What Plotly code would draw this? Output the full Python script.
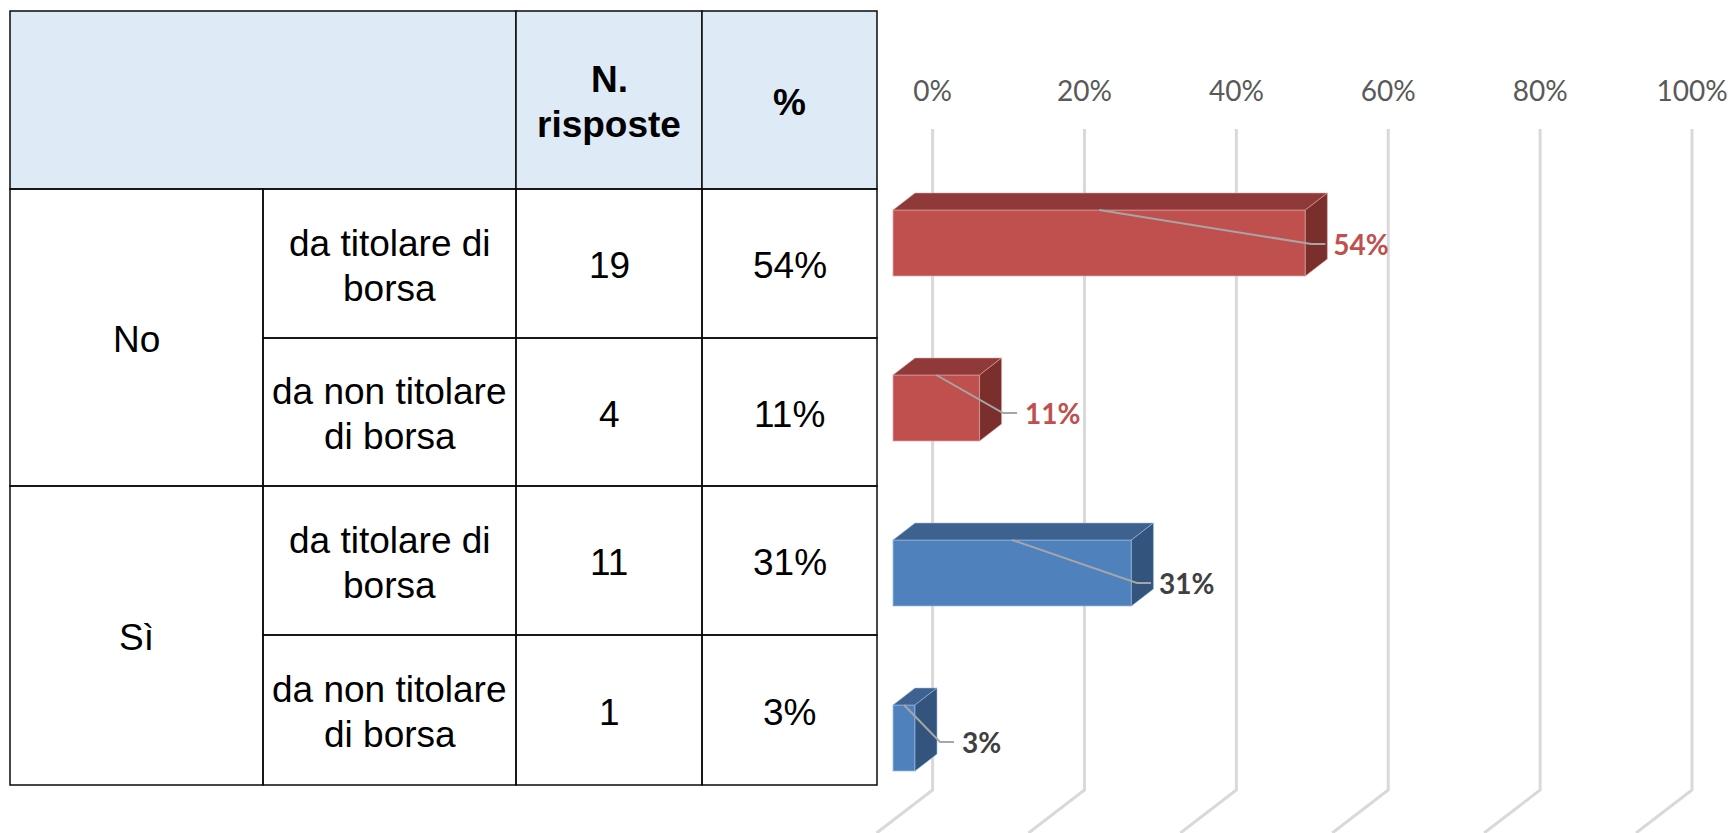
import plotly.graph_objects as go

# Data
groups = ["No", "Sì"]
subgroups = [["da titolare di", "borsa"], ["da non titolare", "di borsa"],
             ["da titolare di", "borsa"], ["da non titolare", "di borsa"]]
header_labels = [["N.", "risposte"], ["%"]]
counts = ["19", "4", "11", "1"]
percent_labels = ["54%", "11%", "31%", "3%"]
bar_values = [54.3, 11.4, 31.4, 2.9]
axis_ticks = [0, 20, 40, 60, 80, 100]
axis_labels = ["0%", "20%", "40%", "60%", "80%", "100%"]

# Page and table geometry, in pixels
W, H = 1731, 833
col_x = [10, 263, 516, 702, 877]
row_y = [11, 189, 338, 486, 635, 785]
LINE_GAP = 45
TEXT_SHIFT = 2
TABLE_FONT = "Liberation Sans"
CHART_FONT = "Lato"

# Chart geometry, in pixels
ZERO_PX = 932.6
PX_PER_PCT = 7.594
FIRST_ROW_PX = 243
ROW_PX = 165
CHART_LEFT = 866


def data_x(px):
    return (px - ZERO_PX) / PX_PER_PCT


def data_y(px):
    return (px - FIRST_ROW_PX) / ROW_PX


# Bar box geometry in axis units
FRONT_ZERO = data_x(893)
DEPTH_X = 22 / PX_PER_PCT
DEPTH_Y = 17 / ROW_PX
BAR_WIDTH = 66 / ROW_PX
# the label leaders were moved by hand in the original, so they differ per bar
ELBOW_OFFSET = [6 / PX_PER_PCT, 23.5 / PX_PER_PCT, 5.5 / PX_PER_PCT, 25 / PX_PER_PCT]
ELBOW_DROP = [1 / ROW_PX, 5 / ROW_PX, 10 / ROW_PX, 4 / ROW_PX]
TAIL = 14 / PX_PER_PCT
LABEL_GAP = 8 / PX_PER_PCT

front_colors = ["#C0504D", "#C0504D", "#4F81BD", "#4F81BD"]
top_colors = ["#8F3A38", "#8F3A38", "#3E628F", "#3E628F"]
side_colors = ["#7A2F2D", "#7A2F2D", "#33557D", "#33557D"]
edge_colors = ["rgba(222,170,168,0.7)", "rgba(222,170,168,0.7)", "rgba(160,190,230,0.7)", "rgba(160,190,230,0.7)"]
label_colors = ["#C0504D", "#C0504D", "#404040", "#404040"]


def px_paper_x(px):
    return px / W


def px_paper_y(px):
    return 1 - px / H


def table_rect(x0, y0, x1, y1, fill="rgba(0,0,0,0)"):
    return dict(type="rect", xref="paper", yref="paper", layer="above",
                x0=px_paper_x(x0), x1=px_paper_x(x1), y0=px_paper_y(y0), y1=px_paper_y(y1),
                fillcolor=fill, line=dict(color="#0A0A0A", width=1.5))


def cell_text(lines, x0, x1, y0, y1, bold=False):
    out = []
    for i, line in enumerate(lines):
        y = (y0 + y1) / 2 + (i - (len(lines) - 1) / 2) * LINE_GAP + TEXT_SHIFT
        out.append(dict(xref="paper", yref="paper", x=px_paper_x((x0 + x1) / 2), y=px_paper_y(y),
                        xanchor="center", yanchor="middle", showarrow=False,
                        text=f"<b>{line}</b>" if bold else line,
                        font=dict(family=TABLE_FONT, size=37, color="#000000")))
    return out


fig = go.Figure()

# Side and top faces of each bar
for i, v in enumerate(bar_values):
    right = FRONT_ZERO + v
    top = i - BAR_WIDTH / 2
    bottom = i + BAR_WIDTH / 2
    fig.add_trace(go.Scatter(
        x=[FRONT_ZERO, FRONT_ZERO + DEPTH_X, right + DEPTH_X, right, FRONT_ZERO],
        y=[top, top - DEPTH_Y, top - DEPTH_Y, top, top],
        mode="lines", fill="toself", fillcolor=top_colors[i],
        line=dict(color=edge_colors[i], width=0.8), hoverinfo="skip"))
    fig.add_trace(go.Scatter(
        x=[right, right + DEPTH_X, right + DEPTH_X, right, right],
        y=[top, top - DEPTH_Y, bottom - DEPTH_Y, bottom, top],
        mode="lines", fill="toself", fillcolor=side_colors[i],
        line=dict(color=edge_colors[i], width=0.8), hoverinfo="skip"))

# Front faces
fig.add_trace(go.Bar(
    y=list(range(len(bar_values))), x=bar_values, base=FRONT_ZERO, orientation="h", width=BAR_WIDTH,
    marker=dict(color=front_colors, line=dict(color=edge_colors, width=1.2)), hoverinfo="skip"))

# Leader lines and data labels
label_x = []
label_y = []
for i, v in enumerate(bar_values):
    elbow = FRONT_ZERO + v + ELBOW_OFFSET[i]
    y_elbow = i + ELBOW_DROP[i]
    fig.add_trace(go.Scatter(
        x=[FRONT_ZERO + v / 2, elbow, elbow + TAIL],
        y=[i - BAR_WIDTH / 2, y_elbow, y_elbow],
        mode="lines", line=dict(color="#A6A6A6", width=2), hoverinfo="skip"))
    label_x.append(elbow + TAIL + LABEL_GAP)
    label_y.append(y_elbow + 4 / ROW_PX)

fig.add_trace(go.Scatter(
    x=label_x, y=label_y, mode="text", text=[f"<b>{t}</b>" for t in percent_labels],
    textposition="middle right", hoverinfo="skip",
    textfont=dict(family=CHART_FONT, size=28, color=label_colors)))

# Wall gridlines: straight down the back, then slanting forward along the floor
grid_top = data_y(129)
grid_bottom = data_y(790)
floor_end = data_y(833)
floor_dx = -56 / PX_PER_PCT
shapes = []
for t in axis_ticks:
    shapes.append(dict(type="path", xref="x", yref="y", layer="below",
                       path=f"M {t},{grid_top} L {t},{grid_bottom} L {t + floor_dx},{floor_end}",
                       line=dict(color="#D9D9D9", width=3)))

# Table
shapes.append(table_rect(col_x[0], row_y[0], col_x[2], row_y[1], "#DEEBF7"))
shapes.append(table_rect(col_x[2], row_y[0], col_x[3], row_y[1], "#DEEBF7"))
shapes.append(table_rect(col_x[3], row_y[0], col_x[4], row_y[1], "#DEEBF7"))
for g in range(len(groups)):
    shapes.append(table_rect(col_x[0], row_y[1 + 2 * g], col_x[1], row_y[3 + 2 * g]))
for r in range(len(counts)):
    for c in range(1, 4):
        shapes.append(table_rect(col_x[c], row_y[r + 1], col_x[c + 1], row_y[r + 2]))

annotations = []
annotations += cell_text(header_labels[0], col_x[2], col_x[3], row_y[0], row_y[1], bold=True)
annotations += cell_text(header_labels[1], col_x[3], col_x[4], row_y[0], row_y[1], bold=True)
for g, name in enumerate(groups):
    annotations += cell_text([name], col_x[0], col_x[1], row_y[1 + 2 * g], row_y[3 + 2 * g])
for r in range(len(counts)):
    annotations += cell_text(subgroups[r], col_x[1], col_x[2], row_y[r + 1], row_y[r + 2])
    annotations += cell_text([counts[r]], col_x[2], col_x[3], row_y[r + 1], row_y[r + 2])
    annotations += cell_text([percent_labels[r]], col_x[3], col_x[4], row_y[r + 1], row_y[r + 2])

fig.update_layout(
    width=W, height=H, margin=dict(l=0, r=0, t=0, b=0),
    paper_bgcolor="white", plot_bgcolor="rgba(0,0,0,0)", showlegend=False,
    shapes=shapes, annotations=annotations,
    xaxis=dict(domain=[CHART_LEFT / W, 1], range=[data_x(CHART_LEFT), data_x(W)],
               anchor="free", position=1 - 107 / H, side="top",
               tickmode="array", tickvals=axis_ticks, ticktext=axis_labels,
               showgrid=False, zeroline=False, showline=False, ticks="",
               tickfont=dict(family=CHART_FONT, size=28, color="#595959")),
    yaxis=dict(domain=[0, 1], range=[data_y(H), data_y(0)], anchor="free", position=CHART_LEFT / W,
               showgrid=False, zeroline=False, showline=False, ticks="", showticklabels=False),
)

fig.write_html("out.html", config=dict(displayModeBar=False),
               post_script="document.body.style.margin='0';document.documentElement.style.overflow='hidden';")
